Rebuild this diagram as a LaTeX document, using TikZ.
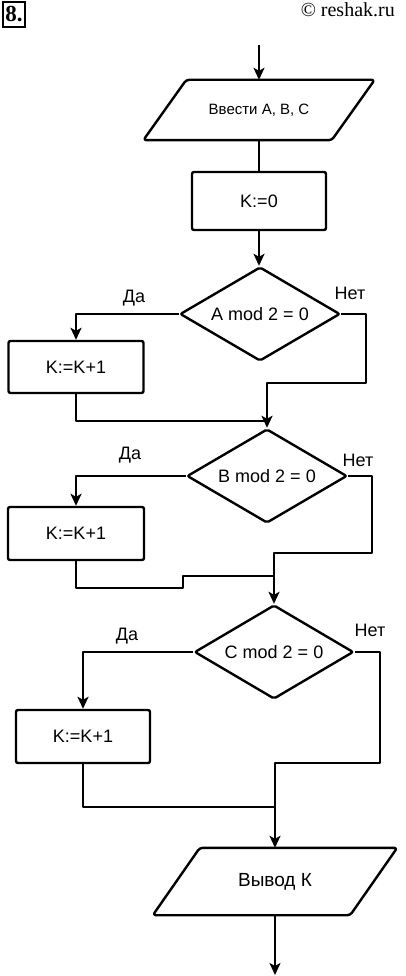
\documentclass[tikz,border=0pt]{standalone}
\usepackage{fontspec}
\setmainfont{Liberation Serif}
\newfontfamily\flowfont{Liberation Sans}
\usetikzlibrary{shapes.geometric,arrows.meta}
\tikzset{
  line/.style={line width=2.4pt, line join=round},
  arr/.style={line, -{Stealth[length=12pt,width=11pt,inset=3pt]}},
  procbox/.style={draw, line width=2.4pt, rounded corners=2pt, inner sep=0pt,
    font=\flowfont\fontsize{18}{21}\selectfont},
  decbox/.style={draw, line width=2.4pt, diamond, aspect=1.7, inner sep=0pt, rounded corners=2pt,
    font=\flowfont\fontsize{18}{21}\selectfont},
  iotext/.style={inner sep=0pt, font=\flowfont\fontsize{17}{20}\selectfont},
  lab/.style={inner sep=0pt, font=\flowfont\fontsize{18}{21}\selectfont},
  para/.style={line width=2.4pt, rounded corners=3pt, line join=round}
}
\begin{document}
\begin{tikzpicture}[x=1pt,y=-1pt]
\useasboundingbox (0,0) rectangle (406,976);
% header
\node[draw, line width=1.2pt, minimum width=22pt, minimum height=25pt, inner sep=0pt,
  font=\bfseries\fontsize{23}{26}\selectfont] (num) at (14,14.5) {8.};
\node[anchor=base east, inner sep=0pt, font=\fontsize{20}{24}\selectfont] (copy) at (395,17) {© reshak.ru};

% input parallelogram
\node[iotext, minimum width=188pt, minimum height=60pt, font=\flowfont\fontsize{15}{18}\selectfont] (in) at (259,110) {Ввести А, В, С};
\draw[para] ([xshift=21.5pt]in.north west) -- ([xshift=21.5pt]in.north east)
  -- ([xshift=-21.5pt]in.south east) -- ([xshift=-21.5pt]in.south west) -- cycle;
\coordinate (start) at (259,45);
\draw[arr] (start) -- (in.north);

\node[procbox, minimum width=134pt, minimum height=58pt] (k0) at (259,201) {K:=0};
\draw[line] (in.south) -- (k0.north);

% decision A
\node[decbox, minimum width=160pt, minimum height=94pt] (dA) at (260,314) {A mod 2 = 0};
\draw[arr] (k0.south) -- (k0.south |- dA.north);
\node[procbox, minimum width=135pt, minimum height=52pt] (b1) at (76,367) {K:=K+1};
\node[lab] (yA) at (134,298) {Да};
\node[lab] (nA) at (350,293) {Нет};
\draw[arr] (dA.west) -| (b1.north);
\coordinate (nAc) at (366,383);
\coordinate (mA) at (267,421);
% decision B
\node[decbox, minimum width=160pt, minimum height=94pt] (dB) at (267,476) {B mod 2 = 0};
\draw[arr] (dA.east) -| (nAc) -- (nAc -| dB.north) -- (dB.north);
\draw[line] (b1.south) |- (mA);

\node[procbox, minimum width=136pt, minimum height=53pt] (b2) at (76,533.5) {K:=K+1};
\node[lab] (yB) at (130,455) {Да};
\node[lab] (nB) at (358,460) {Нет};
\draw[arr] (dB.west) -| (b2.north);
\coordinate (nBc) at (372,553);
\coordinate (sB1) at (183,588);
\coordinate (sB2) at (183,576);
\coordinate (mB) at (274,576);
% decision C
\node[decbox, minimum width=159pt, minimum height=94pt] (dC) at (274,652) {C mod 2 = 0};
\draw[arr] (dB.east) -| (nBc) -- (nBc -| dC.north) -- (dC.north);
\draw[line] (b2.south) |- (sB1) -- (sB2) -- (mB);

\node[procbox, minimum width=134pt, minimum height=53pt] (b3) at (83,736.5) {K:=K+1};
\node[lab] (yC) at (127,636) {Да};
\node[lab] (nC) at (370,630) {Нет};
\draw[arr] (dC.west) -| (b3.north);
\coordinate (nCc) at (380,763);
\coordinate (mC) at (274,807);

% output parallelogram
\node[iotext, minimum width=197pt, minimum height=67pt, font=\flowfont\fontsize{19}{22}\selectfont] (out) at (275,881.5) {Вывод К};
\draw[para] ([xshift=23.5pt]out.north west) -- ([xshift=23.5pt]out.north east)
  -- ([xshift=-23.5pt]out.south east) -- ([xshift=-23.5pt]out.south west) -- cycle;
\draw[arr] (dC.east) -| (nCc) -- (nCc -| out.north) -- (out.north);
\draw[line] (b3.south) |- (mC);
\coordinate (finish) at (275,975);
\draw[arr] (out.south) -- (finish);
\end{tikzpicture}
\end{document}
